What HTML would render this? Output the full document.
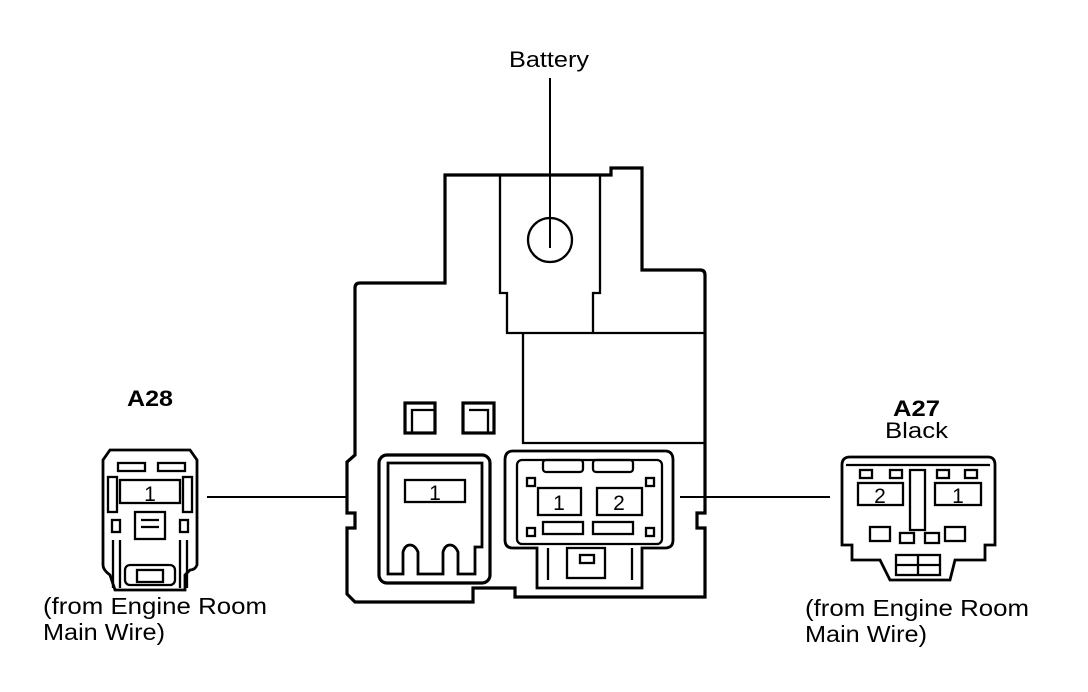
<!DOCTYPE html>
<html><head><style>
body{margin:0;background:#fff;}
svg{display:block;}
text{font-family:"Liberation Sans",Arial,sans-serif;fill:#000;}
</style></head><body>
<svg width="1088" height="692" viewBox="0 0 1088 692" xmlns="http://www.w3.org/2000/svg">
<g fill="none" stroke="#000" stroke-width="3.2" stroke-linejoin="miter">
<path d="M445,175 L611,175 L611,168 L642,168 L642,270 L700,270 Q705,270 705,275 L705,513 L697,513 L697,528 L705,528 L705,597 L515,597 L515,588 L473,588 L473,602 L355,602 L347,594 L347,528 L355,528 L355,513 L347,513 L347,462 L355,455 L355,288 Q355,283 360,283 L445,283 Z"/>
<rect x="405" y="403" width="30" height="30"/>
<rect x="463" y="403" width="31" height="30"/>
<rect x="379" y="455" width="111" height="128" rx="8"/>
<path d="M388,463 L482,463 L482,547 L475,547 L475,574 L458,574 L458,552 Q455,545 450,545 Q445,545 443,552 L443,574 L418,574 L418,552 Q415,545 410,545 Q405,545 403,552 L403,574 L388,574 Z" stroke-width="2.8"/>
<path d="M513,451 L665,451 Q673,451 673,460 L673,540 Q673,548 665,548 L642,548 L642,588 L537,588 L537,548 L513,548 Q505,548 505,540 L505,460 Q505,451 513,451 Z" stroke-width="2.8"/>
</g>
<g fill="none" stroke="#000" stroke-width="2.3">
<path d="M500,175 L500,293 L507,293 L507,333 L705,333"/>
<path d="M600,175 L600,293 L593,293 L593,333"/>
<path d="M523,333 L523,443 L705,443"/>
<circle cx="550" cy="240" r="22"/>
<path d="M412,433 L412,410 L435,410 M469,410 L488,410 L488,433"/>
<rect x="405" y="480" width="60" height="22"/>
<rect x="517" y="460" width="145" height="84" rx="5"/>
<rect x="538" y="488" width="43" height="27"/>
<rect x="597" y="488" width="45" height="27"/>
<rect x="543" y="460" width="40" height="12" rx="3"/>
<rect x="593" y="460" width="40" height="12" rx="3"/>
<rect x="543" y="522" width="40" height="12"/>
<rect x="593" y="522" width="40" height="12"/>
<rect x="527" y="478" width="8" height="8"/>
<rect x="646" y="478" width="8" height="8"/>
<rect x="527" y="528" width="8" height="8"/>
<rect x="646" y="528" width="8" height="8"/>
<rect x="567" y="548" width="38" height="30"/>
<rect x="580" y="555" width="14" height="8"/>
<path d="M548,548 L548,580 M632,548 L632,580"/>
<path d="M110,450 L190,450 L197,460 L197,565 Q195,570 190,570 L185,575 L185,590 L115,590 L110,575 Q103,570 103,565 L103,460 Z" stroke-width="2.8"/>
<rect x="120" y="480" width="60" height="23"/>
<rect x="118" y="463" width="27" height="8"/>
<rect x="158" y="463" width="27" height="8"/>
<rect x="108" y="477" width="9" height="35"/>
<rect x="183" y="477" width="9" height="35"/>
<rect x="135" y="512" width="30" height="27"/>
<path d="M141,520 L159,520 M141,527 L159,527"/>
<rect x="112" y="520" width="8" height="12"/>
<rect x="180" y="520" width="8" height="12"/>
<path d="M113,540 L113,588 M120,540 L120,588 M180,540 L180,588 M187,540 L187,588"/>
<rect x="125" y="565" width="50" height="20" rx="5"/>
<rect x="137" y="570" width="26" height="12"/>
<path d="M850,457 L988,457 Q995,457 995,465 L995,545 L985,545 L985,560 L955,560 L950,580 L890,580 L880,560 L852,560 L852,545 L842,545 L842,465 Q842,457 850,457 Z" stroke-width="2.8"/>
<rect x="858" y="483" width="45" height="22"/>
<rect x="935" y="483" width="46" height="22"/>
<path d="M846,465 L990,465 M910,470 L910,530 L925,530 L925,470 Z"/>
<rect x="860" y="470" width="12" height="8"/>
<rect x="890" y="470" width="12" height="8"/>
<rect x="937" y="470" width="12" height="8"/>
<rect x="965" y="470" width="12" height="8"/>
<rect x="870" y="527" width="20" height="14"/>
<rect x="900" y="533" width="14" height="10"/>
<rect x="925" y="533" width="14" height="10"/>
<rect x="945" y="527" width="20" height="14"/>
<rect x="896" y="555" width="44" height="20"/>
<path d="M918,555 L918,575 M896,565 L940,565"/>
<path d="M550,78 L550,248 M207,497 L347,497 M680,497 L830,497" stroke-width="2"/>
</g>
<g font-size="22">
<text x="509" y="67" textLength="80" lengthAdjust="spacingAndGlyphs">Battery</text>
<text x="127" y="406" font-weight="bold" textLength="46" lengthAdjust="spacingAndGlyphs">A28</text>
<text x="893" y="416" font-weight="bold" textLength="47" lengthAdjust="spacingAndGlyphs">A27</text>
<text x="885" y="438" textLength="63" lengthAdjust="spacingAndGlyphs">Black</text>
</g>
<g font-size="21" text-anchor="middle">
<text x="435" y="500">1</text>
<text x="559" y="510">1</text>
<text x="619" y="510">2</text>
<text x="150" y="501">1</text>
<text x="880" y="503">2</text>
<text x="958" y="503">1</text>
</g>
<g font-size="23">
<text x="43" y="614" textLength="224" lengthAdjust="spacingAndGlyphs">(from Engine Room</text>
<text x="43" y="640" textLength="122" lengthAdjust="spacingAndGlyphs">Main Wire)</text>
<text x="805" y="616" textLength="224" lengthAdjust="spacingAndGlyphs">(from Engine Room</text>
<text x="805" y="642" textLength="122" lengthAdjust="spacingAndGlyphs">Main Wire)</text>
</g>
</svg>
</body></html>
